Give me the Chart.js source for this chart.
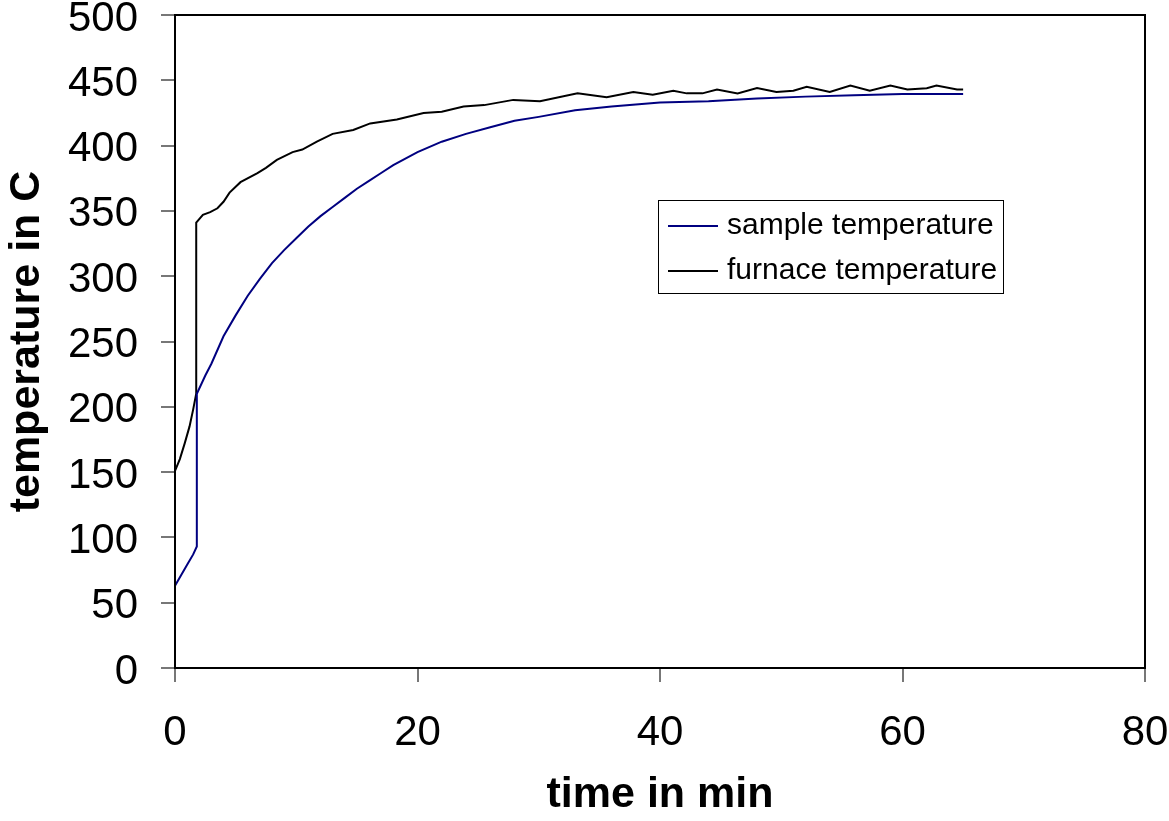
<!DOCTYPE html>
<html>
<head>
<meta charset="utf-8">
<title>temperature</title>
<script src="https://cdn.jsdelivr.net/npm/chart.js@4.4.1/dist/chart.umd.min.js"></script>
<style>
  html, body { margin: 0; padding: 0; background: #fff; }
  #wrap { width: 1169px; height: 821px; }
</style>
</head>
<body>
<div id="wrap"><canvas id="tempChart" width="1169" height="821"></canvas></div>
<script>
// values (time in min, temperature in C)
const sampleTime = [0, 0.5, 1, 1.5, 1.8, 1.8, 2.5, 3, 4, 5, 6, 7, 8, 9, 10, 11, 12, 13, 14, 15, 16, 17, 18, 20, 22, 24, 26, 28, 30, 33, 36, 40, 44, 48, 52, 56, 60, 65];
const sampleTemp = [63, 71, 79, 87, 93, 210, 224, 233, 254, 270, 285, 298, 310, 320, 329, 338, 346, 353, 360, 367, 373, 379, 385, 395, 403, 409, 414, 419, 422, 427, 430, 433, 434, 436, 437.5, 438.5, 439.5, 439.5];

const furnaceTime = [0, 0.4, 0.8, 1.2, 1.5, 1.75, 1.75, 2.3, 2.9, 3.5, 4, 4.5, 5.4, 6.8, 7.5, 8.4, 9.7, 10.5, 11.7, 13, 14.7, 16.1, 18.3, 20.5, 22, 23.8, 25.5, 27.9, 30.1, 33.2, 35.6, 37.8, 39.4, 41.1, 42.2, 43.5, 44.7, 46.4, 48, 49.6, 51, 52.1, 54, 55.7, 57.3, 59, 60.4, 62, 62.8, 64.5, 65];
const furnaceTemp = [151, 160, 172, 185, 198, 210, 341, 347, 349, 352, 357, 364, 372, 379, 383, 389, 395, 397, 403, 409, 412, 417, 420, 425, 426, 430, 431, 435, 434, 440, 437, 441, 439, 442, 440, 440, 443, 440, 444, 441, 442, 445, 441, 446, 442, 446, 443, 444, 446, 443, 443];

const seriesLabels = ["sample temperature", "furnace temperature"];
const xTicks = [0, 20, 40, 60, 80];
const yTicks = [0, 50, 100, 150, 200, 250, 300, 350, 400, 450, 500];

function toPoints(xs, ys) {
  return xs.map((x, i) => ({ x: x, y: ys[i] }));
}

const FONT = "'Liberation Sans', Arial, sans-serif";

// frame on top and right of the plot area
const frameBox = {
  id: "frameBox",
  afterDraw(chart) {
    const { ctx, chartArea } = chart;
    ctx.save();
    ctx.strokeStyle = "#000";
    ctx.lineWidth = 2;
    ctx.strokeRect(chartArea.left, chartArea.top, chartArea.right - chartArea.left, chartArea.bottom - chartArea.top);
    ctx.restore();
  }
};

// legend box inside the plot
const boxLegend = {
  id: "boxLegend",
  afterDraw(chart) {
    const { ctx } = chart;
    const x = 658, y = 200, w = 345, h = 93;
    ctx.save();
    ctx.fillStyle = "#fff";
    ctx.fillRect(x, y, w, h);
    ctx.strokeStyle = "#000";
    ctx.lineWidth = 1;
    ctx.strokeRect(x + 0.5, y + 0.5, w, h);
    ctx.font = "30px " + FONT;
    ctx.textBaseline = "middle";
    ctx.textAlign = "left";
    chart.data.datasets.forEach((ds, i) => {
      const rowY = 226 + i * 45;
      ctx.strokeStyle = ds.borderColor;
      ctx.lineWidth = 2;
      ctx.beginPath();
      ctx.moveTo(668, rowY);
      ctx.lineTo(718, rowY);
      ctx.stroke();
      ctx.fillStyle = "#000";
      ctx.fillText(ds.label, 727, rowY);
    });
    ctx.restore();
  }
};

const ctx = document.getElementById("tempChart").getContext("2d");

new Chart(ctx, {
  type: "line",
  data: {
    datasets: [{
      label: seriesLabels[0],
      data: toPoints(sampleTime, sampleTemp),
      borderColor: "#000080",
      borderWidth: 2,
      pointRadius: 0,
      tension: 0
    }, {
      label: seriesLabels[1],
      data: toPoints(furnaceTime, furnaceTemp),
      borderColor: "#000000",
      borderWidth: 2,
      pointRadius: 0,
      tension: 0
    }]
  },
  options: {
    responsive: false,
    animation: false,
    layout: { padding: { top: 15, right: 24, bottom: 0, left: 0 } },
    plugins: {
      legend: { display: false },
      tooltip: { enabled: false }
    },
    scales: {
      x: {
        type: "linear",
        min: 0,
        max: 80,
        afterBuildTicks(scale) {
          scale.ticks = xTicks.map(v => ({ value: v }));
        },
        afterFit(scale) {
          scale.height = 153;
          scale.paddingLeft = 0;
          scale.paddingRight = 0;
        },
        grid: { drawOnChartArea: false, tickLength: 14, color: "#777", lineWidth: 2 },
        border: { color: "#000", width: 2 },
        ticks: { color: "#000", padding: 26, maxRotation: 0, font: { family: FONT, size: 42 } },
        title: {
          display: true,
          text: "time in min",
          color: "#000",
          padding: 0,
          font: { family: FONT, size: 43, weight: "bold" }
        }
      },
      y: {
        min: 0,
        max: 500,
        afterBuildTicks(scale) {
          scale.ticks = yTicks.map(v => ({ value: v }));
        },
        afterFit(scale) {
          scale.width = 175;
          scale.paddingTop = 0;
          scale.paddingBottom = 0;
        },
        grid: { drawOnChartArea: false, tickLength: 14, color: "#777", lineWidth: 2 },
        border: { color: "#000", width: 2 },
        ticks: { color: "#000", padding: 23, labelOffset: 4, font: { family: FONT, size: 42 } },
        title: {
          display: true,
          text: "temperature in C",
          color: "#000",
          padding: { top: 1, bottom: 0 },
          font: { family: FONT, size: 43, weight: "bold" }
        }
      }
    }
  },
  plugins: [frameBox, boxLegend]
});
</script>
</body>
</html>
